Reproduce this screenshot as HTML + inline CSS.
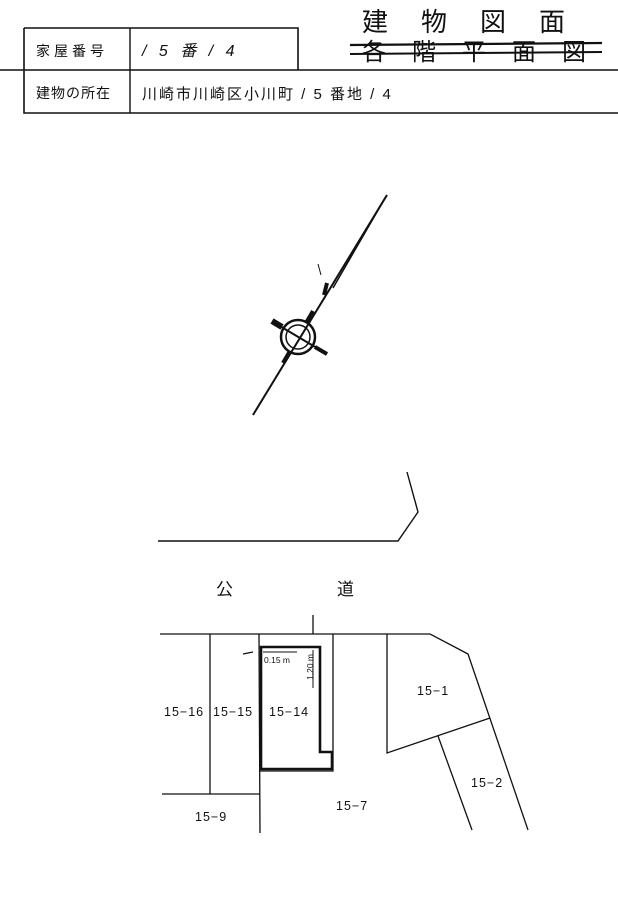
<!DOCTYPE html>
<html><head><meta charset="utf-8"><style>
html,body{margin:0;padding:0;background:#fff}
svg{display:block}
text{font-family:"Liberation Sans","Noto Sans CJK JP",sans-serif;fill:#111}
</style></head><body>
<svg width="618" height="924" viewBox="0 0 618 924" xmlns="http://www.w3.org/2000/svg">
<g stroke="#111" fill="none">
<path d="M24 28 H298 V70" stroke-width="1.6"/>
<line x1="0" y1="70" x2="618" y2="70" stroke-width="1.6"/>
<path d="M24 28 V113 H618" stroke-width="1.6"/>
<line x1="130" y1="28" x2="130" y2="113" stroke-width="1.4"/>
</g>
<text x="36" y="56" font-size="14" letter-spacing="4">家屋番号</text>
<text x="142" y="56" font-size="16" font-style="italic" letter-spacing="4">/ 5 番 / 4</text>
<text x="36" y="98" font-size="14" letter-spacing="1">建物の所在</text>
<text x="142" y="99" font-size="15" letter-spacing="2">川崎市川崎区小川町 / 5 番地 / 4</text>
<text x="362" y="31" font-size="26" letter-spacing="33">建物図面</text>
<text x="362" y="60" font-size="24" letter-spacing="26">各階平面図</text>
<g stroke="#111" fill="none">
<line x1="350" y1="45" x2="602" y2="43" stroke-width="2.2"/>
<line x1="350" y1="54" x2="602" y2="52" stroke-width="2"/>
</g>

<g stroke="#111" fill="none">
<line x1="387" y1="195" x2="253" y2="415" stroke-width="2"/>
<line x1="385" y1="198" x2="333" y2="288" stroke-width="1.5"/>
<path d="M327 283 L324 295" stroke-width="4"/>
<circle cx="298" cy="337" r="17" stroke-width="2.5"/>
<circle cx="298" cy="337" r="12" stroke-width="1.5"/>
<line x1="273" y1="322" x2="327" y2="354" stroke-width="2"/>
<line x1="272" y1="321" x2="282" y2="327" stroke-width="6"/>
<line x1="315" y1="347" x2="327" y2="354" stroke-width="4"/>
<line x1="306" y1="323" x2="313" y2="311" stroke-width="4"/>
<line x1="283" y1="363" x2="290" y2="351" stroke-width="4"/>
<line x1="318" y1="264" x2="321" y2="275" stroke-width="1"/>
</g>

<g stroke="#111" fill="none" stroke-width="1.4">
<path d="M158 541 H398 L418 512 L407 472"/>
</g>
<text x="216" y="595" font-size="17">公</text>
<text x="337" y="595" font-size="17">道</text>

<g stroke="#111" fill="none" stroke-width="1.3">
<path d="M160 634 H430 L468 654 L528 830"/>
<line x1="313" y1="615" x2="313" y2="634"/>
<line x1="210" y1="634" x2="210" y2="794"/>
<line x1="162" y1="794" x2="260" y2="794"/>
<line x1="259" y1="634" x2="260" y2="833"/>
<path d="M259 771 H333 V634"/>
<path d="M387 634 V753 L490 718"/>
<line x1="438" y1="736" x2="472" y2="830"/>
<path d="M261 647 H320 V752 H332 V769 H261 Z" stroke-width="2.6"/>
<line x1="263" y1="652" x2="297" y2="652" stroke-width="1"/>
<line x1="313" y1="650" x2="313" y2="688" stroke-width="1"/>
<line x1="243" y1="654" x2="253" y2="652" stroke-width="1.2"/>
</g>
<text x="264" y="663" font-size="8.5">0.15 m</text>
<text x="0" y="0" font-size="8.5" transform="translate(313,680) rotate(-90)">1.20 m</text>
<g font-size="12.5" letter-spacing="1">
<text x="164" y="716">15−16</text>
<text x="213" y="716">15−15</text>
<text x="269" y="716">15−14</text>
<text x="417" y="695">15−1</text>
<text x="471" y="787">15−2</text>
<text x="336" y="810">15−7</text>
<text x="195" y="821">15−9</text>
</g>
</svg>
</body></html>
